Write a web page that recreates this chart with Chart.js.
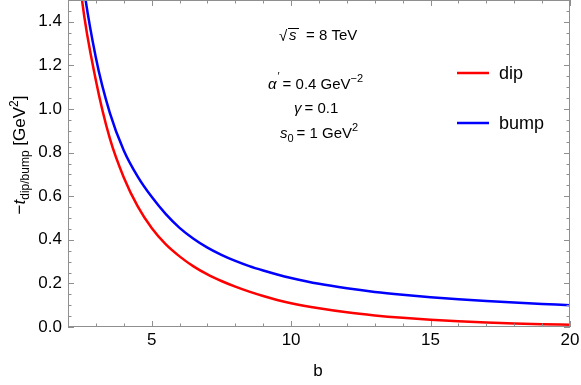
<!DOCTYPE html>
<html>
<head>
<meta charset="utf-8">
<script src="https://cdn.jsdelivr.net/npm/chart.js@4/dist/chart.umd.min.js"></script>
<style>
  html, body { margin:0; padding:0; background:#fff; }
  #wrap { width:581px; height:385px; position:relative; }
</style>
</head>
<body>
<div id="wrap"><canvas id="c" width="581" height="385"></canvas></div>
<script>
// values
const bValues    = [2, 2.5, 3, 3.5, 4, 4.5, 5, 5.5, 6, 6.5, 7, 7.5, 8, 8.5, 9, 9.5, 10,
                    11, 12, 13, 14, 15, 16, 17, 18, 19, 20];
const dipValues  = [2.15, 1.502, 1.131, 0.865, 0.686, 0.553, 0.454, 0.380, 0.324, 0.278, 0.241, 0.211, 0.185, 0.162, 0.142, 0.124, 0.109,
                    0.0858, 0.0672, 0.0531, 0.042, 0.0332, 0.026, 0.0206, 0.0162, 0.0128, 0.010];
const bumpValues = [2.29, 1.622, 1.235, 0.982, 0.810, 0.690, 0.597, 0.519, 0.455, 0.405, 0.364, 0.331, 0.303, 0.279, 0.259, 0.241, 0.225,
                    0.198, 0.1775, 0.161, 0.148, 0.137, 0.1275, 0.119, 0.112, 0.106, 0.100];
const seriesLabels = ['dip', 'bump'];
const seriesColors = ['#ff0000', '#0000ff'];
const xTickValues = [5, 10, 15, 20];
const yTickValues = [0, 0.2, 0.4, 0.6, 0.8, 1.0, 1.2, 1.4];

const FONT = '"Liberation Sans", Arial, sans-serif';
const FRAME = '#8f8f8f';

function pts(ys) { return bValues.map((b, i) => ({ x: b, y: ys[i] })); }

// draws a row of text pieces (sub/superscripts) one after the other
function drawRuns(ctx, x, y, runs, align) {
  let w = 0;
  runs.forEach(r => { ctx.font = r.f; w += ctx.measureText(r.t).width + (r.gap || 0); });
  let cx = align === 'center' ? x - w / 2 : x;
  runs.forEach(r => {
    ctx.font = r.f;
    ctx.fillText(r.t, cx, y + (r.dy || 0));
    cx += ctx.measureText(r.t).width + (r.gap || 0);
  });
  return cx;
}

// frame with inward ticks on all four sides
const frameTicks = {
  id: 'frameTicks',
  afterDatasetsDraw(chart) {
    const { ctx, chartArea: a, scales: { x, y } } = chart;
    ctx.save();
    ctx.strokeStyle = FRAME;
    ctx.lineWidth = 1;
    ctx.strokeRect(a.left + 0.5, a.top + 0.5, a.right - a.left - 1, a.bottom - a.top - 1);
    ctx.beginPath();
    for (let v = 2; v <= 20.001; v += 1) {
      const px = Math.round(x.getPixelForValue(v)) + 0.5;
      const len = (Math.abs(v % 5) < 1e-6) ? 6 : 3.5;
      ctx.moveTo(px, a.bottom); ctx.lineTo(px, a.bottom - len);
      ctx.moveTo(px, a.top);    ctx.lineTo(px, a.top + len);
    }
    for (let k = 0; k <= 30; k++) {
      const py = Math.round(y.getPixelForValue(k * 0.05)) + 0.5;
      const len = (k % 4 === 0) ? 6 : 3.5;
      ctx.moveTo(a.left, py);  ctx.lineTo(a.left + len, py);
      ctx.moveTo(a.right, py); ctx.lineTo(a.right - len, py);
    }
    ctx.stroke();
    ctx.restore();
  }
};

// axis titles, parameter text and legend
const labels = {
  id: 'labels',
  afterDraw(chart) {
    const { ctx } = chart;
    ctx.save();
    ctx.fillStyle = '#000';
    ctx.textBaseline = 'alphabetic';

    // x title
    ctx.font = '17px ' + FONT;
    ctx.textAlign = 'center';
    ctx.fillText('b', 318, 376);
    ctx.textAlign = 'left';

    // y title, rotated
    ctx.save();
    ctx.translate(25, 155);
    ctx.rotate(-Math.PI / 2);
    drawRuns(ctx, 0, 0, [
      { t: '\u2212', f: '17px ' + FONT },
      { t: 't', f: 'italic 17px ' + FONT },
      { t: 'dip/bump', f: '12px ' + FONT, dy: 4 },
      { t: ' [GeV', f: '17px ' + FONT },
      { t: '2', f: '12px ' + FONT, dy: -7 },
      { t: ']', f: '17px ' + FONT }
    ], 'center');
    ctx.restore();

    const F = '15px ' + FONT, FI = 'italic 15px ' + FONT, FS = '11px ' + FONT;

    // sqrt(s) = 8 TeV
    ctx.font = F;
    ctx.fillText('\u221A', 279, 41);
    ctx.font = FI;
    ctx.fillText('s', 289, 40);
    ctx.strokeStyle = '#000'; ctx.lineWidth = 1;
    ctx.beginPath(); ctx.moveTo(288, 28.5); ctx.lineTo(299, 28.5); ctx.stroke();
    ctx.font = F;
    ctx.fillText('= 8 TeV', 306, 40);

    drawRuns(ctx, 268, 89, [
      { t: '\u03B1', f: FI, gap: 1 },
      { t: '\u2032', f: FS, dy: -9, gap: 3 },
      { t: '= 0.4 GeV', f: F },
      { t: '\u22122', f: FS, dy: -7 }
    ]);
    drawRuns(ctx, 294, 113, [
      { t: '\u03B3', f: FI, gap: 3 },
      { t: '= 0.1', f: F }
    ]);
    drawRuns(ctx, 280, 138, [
      { t: 's', f: FI },
      { t: '0', f: FS, dy: 4, gap: 3 },
      { t: '= 1 GeV', f: F },
      { t: '2', f: FS, dy: -7 }
    ]);

    // legend
    const legendY = [73, 123];
    chart.data.datasets.forEach((ds, i) => {
      ctx.strokeStyle = ds.borderColor;
      ctx.lineWidth = 2.5;
      ctx.beginPath();
      ctx.moveTo(457, legendY[i]); ctx.lineTo(489, legendY[i]);
      ctx.stroke();
      ctx.fillStyle = '#000';
      ctx.font = '18px ' + FONT;
      ctx.textBaseline = 'middle';
      ctx.fillText(ds.label, 499, legendY[i] + 1);
    });
    ctx.restore();
  }
};

new Chart(document.getElementById('c').getContext('2d'), {
  type: 'scatter',
  data: {
    datasets: [
      { label: seriesLabels[0], data: pts(dipValues),  borderColor: seriesColors[0], showLine: true, borderWidth: 2.5, pointRadius: 0, cubicInterpolationMode: 'monotone' },
      { label: seriesLabels[1], data: pts(bumpValues), borderColor: seriesColors[1], showLine: true, borderWidth: 2.5, pointRadius: 0, cubicInterpolationMode: 'monotone' }
    ]
  },
  options: {
    responsive: false,
    animation: false,
    layout: { padding: { left: 0, right: 11, top: 0, bottom: 0 } },
    elements: { line: { capBezierPoints: false } },
    plugins: { legend: { display: false }, tooltip: { enabled: false } },
    scales: {
      x: {
        type: 'linear', min: 2, max: 20,
        afterBuildTicks: s => { s.ticks = xTickValues.map(v => ({ value: v })); },
        afterFit: s => { s.height = 58; s.paddingLeft = 0; s.paddingRight = 0; },
        grid: { display: false, drawTicks: false },
        border: { display: false },
        ticks: { color: '#000', font: { family: FONT, size: 17 }, padding: 3, maxRotation: 0 }
      },
      y: {
        type: 'linear', min: 0, max: 1.5,
        afterBuildTicks: s => { s.ticks = yTickValues.map(v => ({ value: v })); },
        afterFit: s => { s.width = 68; s.paddingTop = 0; s.paddingBottom = 0; },
        grid: { display: false, drawTicks: false },
        border: { display: false },
        ticks: { color: '#000', font: { family: FONT, size: 17 }, padding: 6, callback: v => v.toFixed(1) }
      }
    }
  },
  plugins: [frameTicks, labels]
});
</script>
</body>
</html>
